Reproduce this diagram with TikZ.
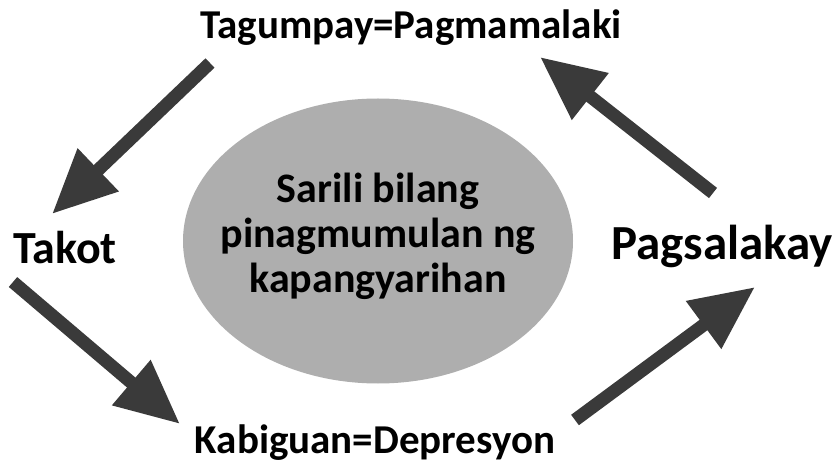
\documentclass[tikz,border=0pt]{standalone}
\usepackage{fontspec}
\setmainfont{Carlito}
\usetikzlibrary{arrows.meta,shapes.geometric}
\definecolor{arrowgray}{HTML}{3A3A3A}
\definecolor{ellgray}{HTML}{AEAEAE}
\newcommand{\lblfont}{\bfseries\fontsize{41}{48}\selectfont}
\newcommand{\takotfont}{\bfseries\fontsize{46}{52}\selectfont}
\newcommand{\pagsfont}{\bfseries\fontsize{49}{54}\selectfont}
\newcommand{\ctrfont}{\bfseries\fontsize{42}{45}\selectfont}
\begin{document}
\begin{tikzpicture}[x=1pt,y=-1pt,
  txt/.style={inner sep=0pt, anchor=base, text=black},
  cyclearrow/.style={draw=arrowgray, line width=13pt, -{Triangle[length=64pt,width=56pt]}}]
\useasboundingbox (0,0) rectangle (840,462);
\node[ellipse, fill=ellgray, minimum width=390pt, minimum height=285pt, inner sep=0pt] (center) at (378,241) {};
\node[txt, font=\ctrfont, align=center] (ctext) at (378,292) {Sarili bilang\\pinagmumulan ng\\kapangyarihan};
\node[txt, font=\lblfont] (top) at (411,39) {Tagumpay=Pagmamalaki};
\node[txt, font=\takotfont] (takot) at (65,263) {Takot};
\node[txt, font=\lblfont] (bottom) at (375,453) {Kabiguan=Depresyon};
\node[txt, font=\pagsfont] (pags) at (722,259) {Pagsalakay};
\coordinate (a1s) at (210,63);
\coordinate (a1e) at (52,214);
\coordinate (a2s) at (13,282);
\coordinate (a2e) at (180,424);
\coordinate (a3s) at (575,420);
\coordinate (a3e) at (755,287);
\coordinate (a4s) at (713,193);
\coordinate (a4e) at (540,57);
\draw[cyclearrow] (a1s) -- (a1e);
\draw[cyclearrow] (a2s) -- (a2e);
\draw[cyclearrow] (a3s) -- (a3e);
\draw[cyclearrow] (a4s) -- (a4e);
\end{tikzpicture}
\end{document}
